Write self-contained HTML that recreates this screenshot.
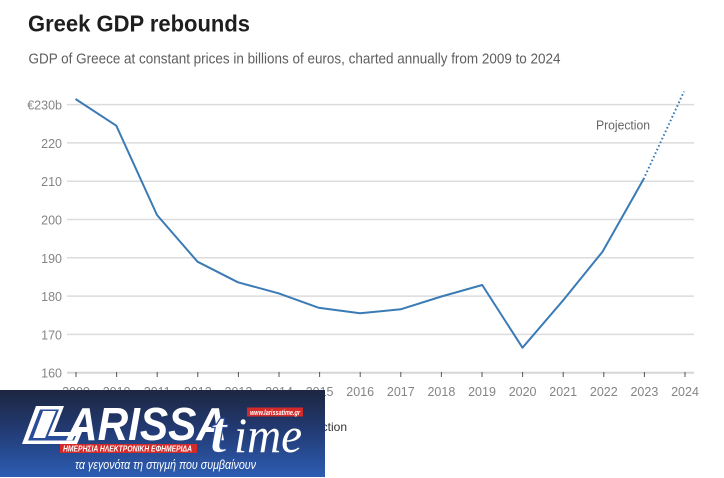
<!DOCTYPE html>
<html><head><meta charset="utf-8"><style>
html,body{margin:0;padding:0;background:#fff;}
svg{display:block;}
</style></head><body>
<svg width="724" height="478" viewBox="0 0 724 478" xmlns="http://www.w3.org/2000/svg" font-family="'Liberation Sans', sans-serif">
<rect width="724" height="478" fill="#fff"/>
<text x="28" y="31.5" font-size="23" font-weight="bold" fill="#1e1e1e" textLength="222" lengthAdjust="spacingAndGlyphs">Greek GDP rebounds</text>
<text x="28.5" y="63.3" font-size="14.5" fill="#5e5e5e" textLength="532" lengthAdjust="spacingAndGlyphs">GDP of Greece at constant prices in billions of euros, charted annually from 2009 to 2024</text>

<g stroke="#dcdcdc" stroke-width="1.5">
<line x1="67" x2="694" y1="104.6" y2="104.6"/>
<line x1="67" x2="694" y1="142.9" y2="142.9"/>
<line x1="67" x2="694" y1="181.2" y2="181.2"/>
<line x1="67" x2="694" y1="219.5" y2="219.5"/>
<line x1="67" x2="694" y1="257.8" y2="257.8"/>
<line x1="67" x2="694" y1="296.1" y2="296.1"/>
<line x1="67" x2="694" y1="334.4" y2="334.4"/>
</g>
<line x1="67" x2="694" y1="372.7" y2="372.7" stroke="#d6d6d6" stroke-width="2"/>

<g font-size="12.5" fill="#858585" text-anchor="end">
<text x="62" y="109.6">€230b</text>
<text x="62" y="147.9">220</text>
<text x="62" y="186.2">210</text>
<text x="62" y="224.5">200</text>
<text x="62" y="262.8">190</text>
<text x="62" y="301.1">180</text>
<text x="62" y="339.4">170</text>
<text x="62" y="377.7">160</text>
</g>

<g stroke="#555" stroke-width="1">
<line x1="76" x2="76" y1="372" y2="377"/>
<line x1="116.6" x2="116.6" y1="372" y2="377"/>
<line x1="157.2" x2="157.2" y1="372" y2="377"/>
<line x1="197.8" x2="197.8" y1="372" y2="377"/>
<line x1="238.4" x2="238.4" y1="372" y2="377"/>
<line x1="279" x2="279" y1="372" y2="377"/>
<line x1="319.6" x2="319.6" y1="372" y2="377"/>
<line x1="360.2" x2="360.2" y1="372" y2="377"/>
<line x1="400.8" x2="400.8" y1="372" y2="377"/>
<line x1="441.4" x2="441.4" y1="372" y2="377"/>
<line x1="482" x2="482" y1="372" y2="377"/>
<line x1="522.6" x2="522.6" y1="372" y2="377"/>
<line x1="563.2" x2="563.2" y1="372" y2="377"/>
<line x1="603.8" x2="603.8" y1="372" y2="377"/>
<line x1="644.4" x2="644.4" y1="372" y2="377"/>
<line x1="685" x2="685" y1="372" y2="377"/>
</g>
<g font-size="12.5" fill="#858585" text-anchor="middle">
<text x="76" y="396">2009</text>
<text x="116.6" y="396">2010</text>
<text x="157.2" y="396">2011</text>
<text x="197.8" y="396">2012</text>
<text x="238.4" y="396">2013</text>
<text x="279" y="396">2014</text>
<text x="319.6" y="396">2015</text>
<text x="360.2" y="396">2016</text>
<text x="400.8" y="396">2017</text>
<text x="441.4" y="396">2018</text>
<text x="482" y="396">2019</text>
<text x="522.6" y="396">2020</text>
<text x="563.2" y="396">2021</text>
<text x="603.8" y="396">2022</text>
<text x="644.4" y="396">2023</text>
<text x="685" y="396">2024</text>
</g>

<polyline fill="none" stroke="#3b7bb5" stroke-width="2" stroke-linejoin="round" points="75.5,99 116.3,125.7 157,215 197.5,261.7 238,282.3 278.5,293.3 318.5,307.7 360,313.3 400.7,309.3 441.4,296.5 482.2,285 522.5,347.7 563,300.5 602.5,251.7 643.5,179.3"/>
<polyline fill="none" stroke="#3b7bb5" stroke-width="2" stroke-dasharray="1.6 2.4" points="643.5,179.3 684,91.5"/>
<text x="596" y="129.3" font-size="12.5" fill="#666" textLength="54" lengthAdjust="spacingAndGlyphs">Projection</text>

<text x="347" y="431" font-size="12" fill="#333" text-anchor="end">Projection</text>

<!-- Logo -->
<defs>
<linearGradient id="lg" x1="0" y1="0" x2="0" y2="1">
<stop offset="0" stop-color="#1d2641"/>
<stop offset="0.45" stop-color="#223a72"/>
<stop offset="1" stop-color="#2d5db3"/>
</linearGradient>
</defs>
<rect x="0" y="390" width="325" height="87" fill="url(#lg)"/>
<!-- L shape -->
<polygon points="36,406 64,406 54,432 82,432 77,444 22,444" fill="#fff"/>
<polygon points="40,409.5 59,409.5 48,436 76,436 74,440.5 28,440.5" fill="#2a4d9a"/>
<polygon points="43,411 56,411 45,438 33,438" fill="#fff"/>
<text x="67" y="440" font-size="46" font-weight="bold" font-style="italic" fill="#fff" textLength="160" lengthAdjust="spacingAndGlyphs">ARISSA</text>
<!-- t -->
<text x="210" y="452" font-size="60" font-weight="bold" font-style="italic" font-family="'Liberation Serif', serif" fill="#fff" stroke="#2a4d9a" stroke-width="1.2">t</text>
<text x="234" y="452" font-size="50" font-style="italic" font-family="'Liberation Serif', serif" fill="#fff" textLength="68" lengthAdjust="spacingAndGlyphs">ime</text>
<rect x="247" y="407.5" width="56" height="9" fill="#d32a2a"/>
<text x="250" y="415" font-size="7" font-weight="bold" font-style="italic" fill="#fff" textLength="50" lengthAdjust="spacingAndGlyphs">www.larissatime.gr</text>
<rect x="60" y="444" width="137" height="9" fill="#d32a2a"/>
<text x="63" y="451.5" font-size="8" font-weight="bold" font-style="italic" fill="#fff" font-family="'Liberation Sans','DejaVu Sans',sans-serif" textLength="129" lengthAdjust="spacingAndGlyphs">ΗΜΕΡΗΣΙΑ ΗΛΕΚΤΡΟΝΙΚΗ ΕΦΗΜΕΡΙΔΑ</text>
<text x="75" y="469" font-size="12.5" font-style="italic" fill="#fff" font-family="'Liberation Sans','DejaVu Sans',sans-serif" textLength="181" lengthAdjust="spacingAndGlyphs">τα γεγονότα τη στιγμή που συμβαίνουν</text>
</svg>
</body></html>
